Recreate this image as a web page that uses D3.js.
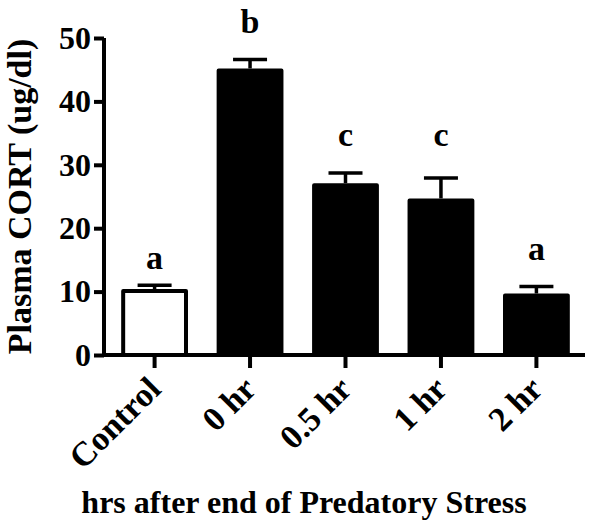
<!DOCTYPE html>
<html>
<head>
<meta charset="utf-8">
<script src="https://cdn.jsdelivr.net/npm/d3@7"></script>
<style>
  html, body { margin: 0; padding: 0; background: #fff; }
  svg { display: block; }
  text { font-family: "Liberation Serif", "Times New Roman", serif; font-weight: bold; fill: #000; }
</style>
</head>
<body>
<svg id="chart" width="600" height="526"></svg>
<script>
const categories = ["Control", "0 hr", "0.5 hr", "1 hr", "2 hr"];
const means = [10.4, 45.2, 27.1, 24.7, 9.7];
const sems = [0.6, 1.4, 1.6, 3.2, 1.1];
const fills = ["#ffffff", "#000000", "#000000", "#000000", "#000000"];
const sigLetters = ["a", "b", "c", "c", "a"];
const letterLevels = [13.6, 50.8, 33.0, 33.0, 15.0];
const yTicks = [0, 10, 20, 30, 40, 50];
const yTitle = "Plasma CORT (ug/dl)";
const xTitle = "hrs after end of Predatory Stress";

const svg = d3.select("#chart");
const x = d3.scaleBand().domain(categories).range([104, 587]).paddingInner(0.3).paddingOuter(0.18);
const y = d3.scaleLinear().domain([0, 50]).range([355, 38]);
const sw = 4;

// bars
svg.append("g").selectAll("rect").data(categories).join("rect")
  .attr("x", d => x(d) + sw / 2)
  .attr("y", (d, i) => y(means[i]) + sw / 2)
  .attr("width", x.bandwidth() - sw)
  .attr("height", (d, i) => y(0) - y(means[i]) - sw / 2)
  .attr("fill", (d, i) => fills[i])
  .attr("stroke", "#000")
  .attr("stroke-width", sw)
  .attr("stroke-linejoin", "round");

// error bars (upper only)
const eb = svg.append("g").attr("stroke", "#000").attr("stroke-width", 3.5);
categories.forEach((c, i) => {
  const cx = x(c) + x.bandwidth() / 2;
  eb.append("line").attr("x1", cx).attr("x2", cx)
    .attr("y1", y(means[i])).attr("y2", y(means[i] + sems[i]));
  eb.append("line").attr("x1", cx - 17).attr("x2", cx + 17)
    .attr("y1", y(means[i] + sems[i])).attr("y2", y(means[i] + sems[i]));
});

// significance letters
svg.append("g").selectAll("text").data(categories).join("text")
  .attr("x", d => x(d) + x.bandwidth() / 2)
  .attr("y", (d, i) => y(letterLevels[i]))
  .attr("text-anchor", "middle")
  .attr("font-size", 34)
  .text((d, i) => sigLetters[i]);

// y axis
const yAxis = svg.append("g").attr("transform", "translate(104,0)")
  .call(d3.axisLeft(y).tickValues(yTicks).tickSize(10).tickSizeOuter(0).tickPadding(3));
yAxis.select(".domain").attr("stroke-width", sw).attr("d", `M0,${y(50)}V${y(0) + 2}`);
yAxis.selectAll(".tick line").attr("stroke-width", sw);
yAxis.selectAll(".tick text").attr("font-size", 32).attr("font-family", "Liberation Serif").attr("font-weight", "bold").attr("fill", "#000");

// x axis
const xAxis = svg.append("g").attr("transform", `translate(0,${y(0)})`)
  .call(d3.axisBottom(x).tickSize(13).tickSizeOuter(0));
xAxis.select(".domain").attr("stroke-width", sw).attr("d", "M102,0H585");
xAxis.selectAll(".tick line").attr("stroke-width", sw);
xAxis.selectAll(".tick text")
  .attr("font-size", 34).attr("font-family", "Liberation Serif").attr("font-weight", "bold").attr("fill", "#000")
  .attr("text-anchor", "end")
  .attr("dy", null)
  .attr("y", null)
  .attr("transform", "translate(8,36) rotate(-45)");

// axis titles
svg.append("text")
  .attr("transform", `translate(31,${(y(0) + y(50)) / 2}) rotate(-90)`)
  .attr("text-anchor", "middle")
  .attr("font-size", 34)
  .text(yTitle);

svg.append("text")
  .attr("x", 304).attr("y", 513)
  .attr("text-anchor", "middle")
  .attr("font-size", 32)
  .text(xTitle);
</script>
</body>
</html>
